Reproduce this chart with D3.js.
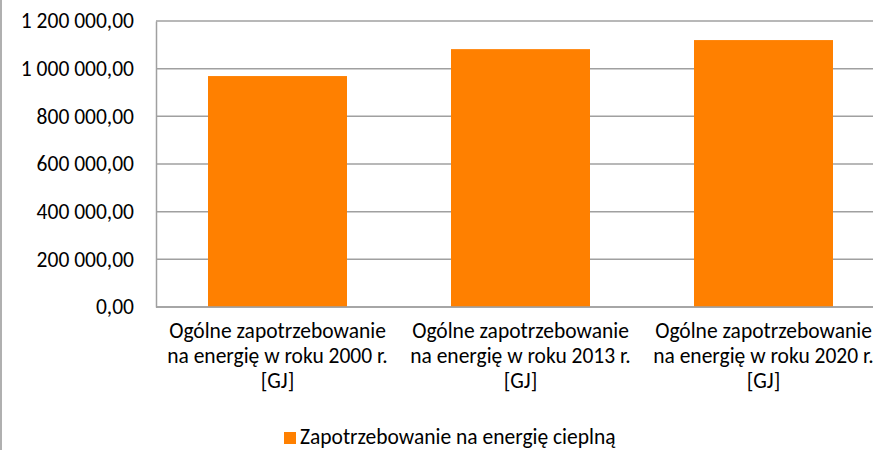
<!DOCTYPE html>
<html>
<head>
<meta charset="utf-8">
<script src="https://cdn.jsdelivr.net/npm/d3@7"></script>
<style>
  html, body { margin: 0; padding: 0; background: #fff; }
  svg { display: block; font-family: Carlito, Lato, sans-serif; }
</style>
</head>
<body>
<script>
// Chart values
const CATEGORIES = [
    ["Ogólne zapotrzebowanie", "na energię w roku 2000 r.", "[GJ]"],
    ["Ogólne zapotrzebowanie", "na energię w roku 2013 r.", "[GJ]"],
    ["Ogólne zapotrzebowanie", "na energię w roku 2020 r.", "[GJ]"]
];
const VALUES = [969000, 1082000, 1120000];
const SERIES_NAME = "Zapotrzebowanie na energię cieplną";
const Y_TICKS = [0, 200000, 400000, 600000, 800000, 1000000, 1200000];

const WIDTH = 873;
const HEIGHT = 450;

const PLOT_LEFT = 156;
const PLOT_TOP = 21;
const PLOT_BOTTOM = 307;
const BAND_WIDTH = 243;

const BAR_COLOR = "#FF8000";
const GRID_COLOR = "#A0A0A0";
const FONT_SIZE = 21.5;
const LINE_GAP = 25;

const plLocale = d3.formatLocale({
    decimal: ",",
    thousands: "\u00a0",
    grouping: [3],
    currency: ["", " zł"]
});
const fmt = plLocale.format(",.2f");

const svg = d3.select("body").append("svg")
    .attr("width", WIDTH)
    .attr("height", HEIGHT);

// Outer chart border (only the left edge is visible)
svg.append("line")
    .attr("x1", 1).attr("x2", 1)
    .attr("y1", 0).attr("y2", HEIGHT)
    .attr("stroke", "#B0B0B0")
    .attr("stroke-width", 2);

const xScale = d3.scaleBand()
    .domain(d3.range(CATEGORIES.length))
    .range([PLOT_LEFT, PLOT_LEFT + BAND_WIDTH * CATEGORIES.length])
    .paddingInner(0.428)
    .paddingOuter(0.214);

const yScale = d3.scaleLinear()
    .domain([0, 1200000])
    .range([PLOT_BOTTOM, PLOT_TOP]);

// Gridlines
svg.append("g")
    .selectAll("line")
    .data(Y_TICKS)
    .join("line")
    .attr("x1", PLOT_LEFT)
    .attr("x2", WIDTH)
    .attr("y1", d => yScale(d))
    .attr("y2", d => yScale(d))
    .attr("stroke", GRID_COLOR)
    .attr("stroke-width", 1.5);

// Bars
svg.append("g")
    .selectAll("rect")
    .data(VALUES)
    .join("rect")
    .attr("x", (_d, i) => xScale(i))
    .attr("y", d => yScale(d))
    .attr("width", xScale.bandwidth())
    .attr("height", d => yScale(0) - yScale(d))
    .attr("fill", BAR_COLOR);

// Y axis
const yAxis = svg.append("g")
    .attr("transform", `translate(${PLOT_LEFT}, 0)`)
    .call(d3.axisLeft(yScale).tickValues(Y_TICKS).tickFormat(fmt).tickSize(0).tickPadding(22));
yAxis.select(".domain").attr("stroke", GRID_COLOR).attr("stroke-width", 1.5);
yAxis.selectAll("text")
    .attr("fill", "#000")
    .style("font-size", FONT_SIZE + "px")
    .style("font-family", "Carlito, Lato, sans-serif");

// Bottom axis line
svg.append("line")
    .attr("x1", PLOT_LEFT).attr("x2", WIDTH)
    .attr("y1", PLOT_BOTTOM).attr("y2", PLOT_BOTTOM)
    .attr("stroke", GRID_COLOR)
    .attr("stroke-width", 1.5);

// Category labels
const labels = svg.append("g")
    .selectAll("text")
    .data(CATEGORIES)
    .join("text")
    .attr("text-anchor", "middle")
    .attr("fill", "#000")
    .style("font-size", FONT_SIZE + "px");

labels.selectAll("tspan")
    .data((lines, i) => lines.map(line => ({ line, i })))
    .join("tspan")
    .attr("x", d => xScale(d.i) + xScale.bandwidth() / 2)
    .attr("y", (_d, j) => 338 + j * LINE_GAP)
    .text(d => d.line);

// Legend
svg.append("rect")
    .attr("x", 284)
    .attr("y", 432)
    .attr("width", 12)
    .attr("height", 12)
    .attr("fill", BAR_COLOR);

svg.append("text")
    .attr("x", 300)
    .attr("y", 444)
    .attr("fill", "#000")
    .style("font-size", FONT_SIZE + "px")
    .text(SERIES_NAME);
</script>
</body>
</html>
